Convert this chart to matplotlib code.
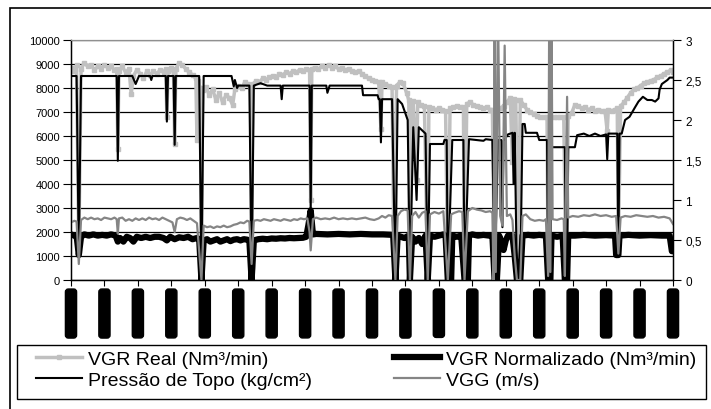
import numpy as np
import matplotlib.pyplot as plt
from matplotlib.patches import Rectangle

plt.rcParams['font.family'] = ['Liberation Sans', 'DejaVu Sans']

# VGR Real (Nm3/min), left axis
vgr_real_x = [0, 3, 5, 7, 9, 12, 15, 18, 21, 24, 27, 30, 33, 36, 39, 41, 42, 43, 46, 49,
              52, 54, 56, 59, 62, 65, 68, 71, 74, 77, 80, 83, 85, 86, 87, 90, 92, 93, 94, 97,
              100, 103, 106, 109, 112, 113, 114, 116, 117, 118, 121, 124, 127, 130, 133, 136, 139, 142, 145, 147,
              150, 153, 156, 159, 161, 162, 163, 166, 169, 172, 175, 178, 181, 184, 187, 190, 193, 196, 199, 202,
              205, 208, 211, 214, 215, 216, 219, 222, 225, 228, 231, 234, 237, 240, 243, 246, 249, 252, 255, 258,
              261, 264, 267, 270, 273, 276, 278, 279, 282, 285, 288, 290, 292, 295, 298, 301, 303, 304, 305, 307,
              310, 311, 314, 317, 320, 321, 324, 327, 330, 333, 336, 338, 340, 343, 346, 349, 352, 353, 355, 358,
              361, 364, 367, 370, 373, 376, 378, 380, 382, 385, 388, 391, 394, 396, 397, 399, 401, 403, 406, 409,
              412, 415, 418, 421, 424, 427, 428, 430, 433, 436, 439, 442, 444, 446, 449, 452, 455, 458, 461, 464,
              467, 470, 473, 476, 479, 481, 482, 485, 488, 490, 491, 493, 496, 499, 502, 505, 508, 511, 514, 517,
              520, 523, 526, 529, 532, 535, 538, 540]
vgr_real = [8850, 8700, 8950, 1200, 8800, 9050, 8900, 8950, 8750, 8900, 8800, 8950, 8850, 8900, 8750, 8800, 5460, 8700, 8900, 8650,
            8800, 7750, 8500, 8750, 8600, 8400, 8700, 8550, 8700, 8600, 8750, 8650, 8800, 6800, 8700, 8850, 8600, 5670, 8800, 9050,
            8950, 8800, 8650, 8550, 8400, 5830, 8300, 8000, 0, 7900, 8050, 7700, 7950, 7500, 7800, 7400, 7700, 7600, 7290, 7950,
            8100, 8000, 8250, 8150, 8100, 540, 8150, 8300, 8250, 8400, 8350, 8450, 8500, 8450, 8600, 8550, 8650, 8600, 8700, 8650,
            8750, 8700, 8800, 8750, 3330, 8800, 8850, 8800, 8900, 8850, 8950, 8850, 8900, 8800, 8850, 8750, 8800, 8700, 8650, 8700,
            8600, 8500, 8400, 8350, 8300, 8250, 6290, 8250, 8150, 8100, 8050, 0, 8100, 8250, 8200, 7800, 7500, 0, 7400, 7450,
            4170, 7400, 7300, 7250, 0, 7200, 7150, 7100, 7150, 7100, 7050, 0, 7150, 7200, 7250, 7200, 7200, 0, 7350, 7400,
            7300, 7250, 7200, 7150, 7200, 7100, 7100, 0, 7100, 7150, 7250, 7400, 7600, 4920, 7550, 7500, 0, 7500, 7300, 7100,
            7000, 6900, 6850, 6800, 6800, 6800, 0, 6800, 6780, 6800, 6780, 6800, 0, 6850, 6950, 7300, 7250, 7150, 7200, 7100,
            7150, 7050, 7100, 7050, 7050, 6200, 7100, 7050, 7100, 7150, 1290, 7250, 7400, 7600, 7800, 7950, 8000, 8100, 8200, 8250,
            8300, 8350, 8450, 8500, 8600, 8650, 8750, 8650]

# VGR Normalizado (Nm3/min), left axis
vgr_norm_x = [0, 3, 5, 7, 9, 12, 16, 20, 24, 28, 32, 36, 40, 42, 44, 47, 50, 53, 56, 59,
              63, 67, 71, 75, 79, 83, 86, 89, 93, 97, 101, 105, 109, 113, 115, 117, 119, 122, 125, 128,
              131, 134, 137, 140, 143, 146, 149, 152, 155, 158, 160, 162, 164, 168, 172, 176, 180, 184, 188, 192,
              196, 200, 204, 208, 211, 213, 215, 217, 220, 230, 240, 250, 260, 270, 280, 289, 291, 293, 296, 299,
              301, 303, 304, 306, 309, 312, 315, 318, 320, 322, 326, 330, 334, 336, 338, 341, 342, 346, 350, 353,
              356, 357, 360, 365, 370, 375, 378, 380, 382, 384, 386, 388, 390, 392, 396, 398, 400, 403, 405, 410,
              415, 420, 426, 428, 430, 431, 436, 441, 443, 445, 446, 452, 460, 470, 480, 488, 489, 491, 492, 500,
              510, 520, 530, 537, 539, 540]
vgr_norm = [1900, 1850, 1850, 1040, 1800, 1900, 1850, 1900, 1850, 1880, 1850, 1900, 1850, 1600, 1750, 1600, 1800, 1750, 1600, 1800,
            1750, 1800, 1750, 1800, 1800, 1750, 1650, 1800, 1700, 1780, 1750, 1800, 1700, 1750, 1700, 0, 1650, 1700, 1600, 1650,
            1700, 1600, 1650, 1700, 1620, 1680, 1700, 1650, 1700, 1680, 1650, 0, 1650, 1700, 1720, 1700, 1730, 1720, 1740, 1730,
            1750, 1740, 1750, 1760, 1800, 2300, 2900, 1900, 1920, 1900, 1920, 1900, 1920, 1900, 1900, 1880, 0, 1850, 1800, 1750,
            1800, 1850, 0, 1800, 1600, 1750, 1500, 1850, 0, 1850, 1800, 1850, 1900, 1850, 0, 0, 1850, 1800, 1850, 0,
            0, 1850, 1900, 1850, 1880, 1850, 1850, 0, 0, 1850, 1600, 1250, 1650, 1850, 1850, 1000, 0, 0, 1850, 1880,
            1850, 1880, 1850, 0, 0, 1850, 1800, 1850, 0, 0, 1850, 1850, 1880, 1850, 1870, 1850, 1040, 1040, 1850, 1880,
            1850, 1870, 1850, 1850, 1200, 1200]

# Pressao de Topo (kg/cm2), right axis
pressao_x = [0, 5, 7, 9, 41, 42, 43, 55, 58, 61, 71, 72, 73, 85, 86, 87, 92, 93, 94, 115,
             117, 119, 144, 146, 147, 149, 150, 160, 162, 164, 170, 176, 188, 189, 190, 214, 215, 216, 229, 230,
             232, 261, 262, 275, 276, 277, 278, 279, 288, 291, 293, 297, 300, 302, 304, 307, 310, 312, 318, 320,
             322, 334, 335, 337, 338, 342, 352, 353, 357, 370, 372, 378, 380, 383, 386, 387, 388, 392, 396, 397,
             398, 400, 403, 405, 407, 408, 418, 420, 427, 428, 430, 431, 443, 444, 445, 446, 452, 454, 460, 465,
             470, 475, 480, 481, 482, 490, 491, 492, 494, 497, 501, 506, 509, 513, 517, 521, 524, 527, 528, 530,
             535, 537, 540]
pressao = [2.55, 2.55, 0.31, 2.55, 2.55, 1.49, 2.55, 2.55, 2.45, 2.55, 2.55, 2.5, 2.55, 2.55, 1.98, 2.55, 2.55, 1.69, 2.55, 2.55,
           0.0, 2.55, 2.55, 2.42, 2.5, 2.4, 2.43, 2.43, 0.0, 2.43, 2.46, 2.43, 2.43, 2.26, 2.43, 2.43, 0.85, 2.43, 2.43, 2.34,
           2.43, 2.43, 2.31, 2.31, 2.26, 2.26, 1.72, 2.26, 2.26, 0.0, 2.26, 2.2, 2.08, 2.0, 0.0, 1.91, 1.0, 1.91, 1.83, 0.0,
           1.7, 1.7, 1.75, 1.75, 0.0, 1.75, 1.75, 0.0, 1.76, 1.74, 1.76, 1.75, 0.0, 1.75, 1.75, 0.66, 1.74, 1.82, 1.84, 1.2,
           1.84, 0.0, 0.0, 1.95, 1.95, 1.84, 1.84, 1.75, 1.75, 0.0, 0.0, 1.66, 1.66, 0.0, 0.0, 1.66, 1.66, 1.81, 1.83, 1.8,
           1.83, 1.8, 1.82, 1.51, 1.83, 1.83, 0.3, 1.83, 1.83, 2.0, 2.04, 2.16, 2.23, 2.29, 2.25, 2.25, 2.23, 2.27, 2.38, 2.45,
           2.5, 2.53, 2.53]

# VGG (m/s), right axis
vgg_x = [0, 3, 5, 7, 9, 12, 15, 18, 21, 24, 27, 30, 33, 36, 39, 41, 42, 43, 46, 49,
         52, 55, 58, 61, 64, 67, 70, 73, 76, 79, 82, 85, 88, 91, 93, 95, 98, 101, 104, 107,
         110, 113, 117, 119, 122, 125, 128, 131, 134, 137, 140, 143, 146, 149, 152, 155, 158, 160, 162, 164,
         167, 170, 173, 176, 179, 182, 185, 188, 191, 194, 197, 200, 203, 206, 209, 212, 214, 215, 217, 220,
         224, 228, 232, 236, 240, 244, 248, 252, 256, 260, 264, 268, 272, 276, 279, 282, 285, 288, 291, 293,
         296, 299, 302, 304, 306, 309, 312, 315, 318, 320, 322, 326, 330, 334, 338, 341, 344, 348, 351, 353,
         356, 360, 364, 368, 372, 376, 378, 379, 380, 381, 383, 385, 387, 389, 391, 394, 396, 398, 400, 403,
         405, 408, 412, 416, 420, 424, 426, 428, 429, 430, 431, 432, 436, 440, 442, 443, 445, 446, 450, 455,
         460, 465, 470, 475, 480, 485, 489, 491, 493, 497, 502, 507, 512, 517, 522, 527, 532, 537, 540]
vgg = [0.72, 0.74, 0.73, 0.2, 0.75, 0.78, 0.76, 0.78, 0.76, 0.77, 0.75, 0.78, 0.77, 0.76, 0.78, 0.76, 0.58, 0.77, 0.78, 0.74,
       0.76, 0.74, 0.77, 0.75, 0.77, 0.75, 0.78, 0.76, 0.77, 0.75, 0.78, 0.76, 0.74, 0.72, 0.6, 0.76, 0.78, 0.77, 0.75, 0.77,
       0.74, 0.71, 0.0, 0.68, 0.66, 0.67, 0.65, 0.67, 0.66, 0.68, 0.66, 0.67, 0.69, 0.7, 0.72, 0.71, 0.74, 0.73, 0.2, 0.74,
       0.75, 0.74, 0.76, 0.75, 0.74, 0.76, 0.75, 0.74, 0.76, 0.75, 0.74, 0.76, 0.75, 0.77, 0.76, 0.77, 0.6, 0.37, 0.76, 0.78,
       0.76, 0.77, 0.76, 0.78, 0.76, 0.77, 0.76, 0.77, 0.76, 0.77, 0.78, 0.76, 0.75, 0.77, 0.8, 0.78, 0.81, 0.8, 0.0, 0.8,
       0.86, 0.88, 0.87, 0.0, 0.8, 0.85, 0.78, 0.84, 0.86, 0.0, 0.82, 0.85, 0.83, 0.86, 0.0, 0.82, 0.84, 0.86, 0.85, 0.0,
       0.86, 0.9, 0.88, 0.87, 0.85, 0.86, 0.84, 0.0, 3.5, 0.1, 3.5, 0.8, 0.68, 2.93, 0.8, 0.82, 0.75, 0.3, 0.0, 0.0,
       0.8, 0.82, 0.76, 0.74, 0.75, 0.74, 0.76, 0.05, 3.5, 0.1, 3.5, 0.76, 0.75, 0.77, 0.76, 0.05, 2.29, 0.78, 0.8, 0.79,
       0.81, 0.8, 0.82, 0.8, 0.81, 0.79, 0.8, 0.33, 0.78, 0.8, 0.79, 0.81, 0.8, 0.79, 0.8, 0.78, 0.79, 0.77, 0.7]

x_ticks = np.arange(0, 541, 30)
x_labels = ['12/03 %02d:00' % h for h in range(0, 19)]
left_ticks = list(range(0, 10001, 1000))
right_ticks = [0, 0.5, 1, 1.5, 2, 2.5, 3]
right_labels = ['0', '0,5', '1', '1,5', '2', '2,5', '3']

fig = plt.figure(figsize=(7.11, 4.10), dpi=100)
# outer chart frame (runs off the right and bottom edges)
fig.patches.append(Rectangle((10 / 711, -0.1), 1.2, 1 - 9 / 410 + 0.1, transform=fig.transFigure,
                             fill=False, edgecolor='black', linewidth=1.2))
# legend frame
fig.patches.append(Rectangle((17 / 711, 1 - 400 / 410), 689 / 711, 54 / 410, transform=fig.transFigure,
                             fill=False, edgecolor='black', linewidth=1.0))

ax = fig.add_axes([71 / 711, 129 / 410, 602 / 711, 240 / 410])
ax2 = ax.twinx()

l1, = ax.plot(vgr_real_x, vgr_real, color='#c0c0c0', lw=2.5, marker='s', ms=3.5)
l2, = ax.plot(vgr_norm_x, vgr_norm, color='black', lw=4.5, solid_joinstyle='round')
l3, = ax2.plot(pressao_x, pressao, color='black', lw=1.5)
l4, = ax2.plot(vgg_x, vgg, color='#858585', lw=1.6)

ax.set_xlim(0, 540)
ax.set_ylim(0, 10000)
ax2.set_ylim(0, 3)
ax.set_yticks(left_ticks)
ax.set_yticklabels([str(v) for v in left_ticks], fontsize=8)
ax2.set_yticks(right_ticks)
ax2.set_yticklabels(right_labels, fontsize=8.5)
ax.yaxis.grid(True, color='black', lw=0.9)
ax.set_axisbelow(True)

ax.set_xticks(x_ticks)
ax.set_xticklabels(x_labels, rotation=90, fontsize=6, color='black')
for lbl in ax.get_xticklabels():
    lbl.set_bbox(dict(boxstyle='round,pad=0.25,rounding_size=0.35', fc='black', ec='black'))
ax.tick_params(axis='x', length=4, pad=4, color='black')
ax.tick_params(axis='y', length=6, pad=2)
ax2.tick_params(axis='y', length=6, pad=3)

ax.spines['top'].set_color('#909090')
ax2.spines['top'].set_color('#909090')
for sp in ['left', 'bottom']:
    ax.spines[sp].set_linewidth(1.0)
ax2.spines['right'].set_linewidth(1.0)

handles = [l1, l2, l3, l4]
labels = ['VGR Real (Nm³/min)', 'VGR Normalizado (Nm³/min)', 'Pressão de Topo (kg/cm²)', 'VGG (m/s)']
order = [0, 2, 1, 3]
leg = fig.legend([handles[i] for i in order], [labels[i] for i in order], ncol=2,
                 loc='upper left', bbox_to_anchor=(36 / 711, 1 - 396 / 410, (696 - 36) / 711, 46 / 410),
                 mode='expand', borderaxespad=0, fontsize=14, handlelength=2.35, handletextpad=0.3,
                 labelspacing=0.2, borderpad=0, frameon=False)
leg.set_bbox_to_anchor((36 / 711, 1 - 398 / 410, (696 - 36) / 711, 47 / 410), transform=fig.transFigure)

fig.savefig('out.png', dpi=100)
